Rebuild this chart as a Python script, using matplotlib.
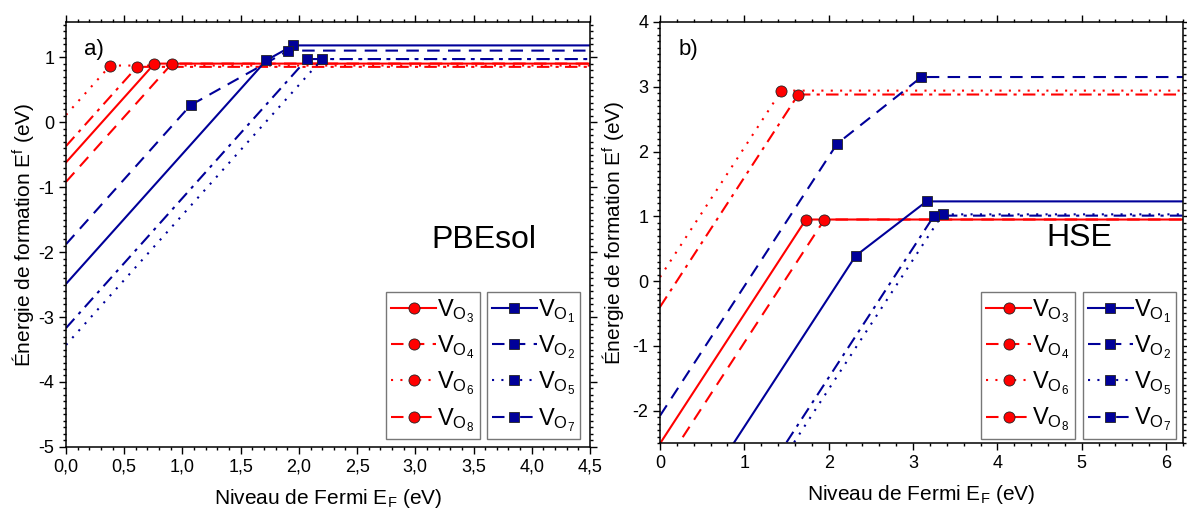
import matplotlib
matplotlib.use("Agg")
import matplotlib.pyplot as plt
from matplotlib.lines import Line2D
from matplotlib.ticker import MultipleLocator, FuncFormatter

plt.rcParams['font.family'] = ['Liberation Sans', 'DejaVu Sans']
plt.rcParams['mathtext.fontset'] = 'custom'
plt.rcParams['mathtext.rm'] = 'Liberation Sans'
plt.rcParams['mathtext.it'] = 'Liberation Sans:italic'

# ---- panel a) PBEsol : polyline vertices (x = E_F, y = E^f) ----
a_o3_x = [0, 0.76, 4.5]
a_o3_y = [-0.62, 0.90, 0.90]
a_o4_x = [0, 0.91, 4.5]
a_o4_y = [-0.92, 0.90, 0.90]
a_o6_x = [0, 0.38, 4.5]
a_o6_y = [0.11, 0.87, 0.87]
a_o8_x = [0, 0.61, 4.5]
a_o8_y = [-0.37, 0.85, 0.85]
a_o1_x = [0, 1.72, 1.95, 4.5]
a_o1_y = [-2.49, 0.95, 1.18, 1.18]
a_o2_x = [0, 1.07, 1.91, 4.5]
a_o2_y = [-1.88, 0.26, 1.10, 1.10]
a_o5_x = [0, 2.20, 4.5]
a_o5_y = [-3.43, 0.97, 0.97]
a_o7_x = [0, 2.07, 4.5]
a_o7_y = [-3.17, 0.97, 0.97]

# ---- panel b) HSE ----
b_o3_x = [0, 1.73, 6.2]
b_o3_y = [-2.51, 0.95, 0.95]
b_o4_x = [0, 1.95, 6.2]
b_o4_y = [-2.95, 0.95, 0.95]
b_o6_x = [0, 1.44, 6.2]
b_o6_y = [0.06, 2.94, 2.94]
b_o8_x = [0, 1.64, 6.2]
b_o8_y = [-0.40, 2.88, 2.88]
b_o1_x = [0, 2.32, 3.16, 6.2]
b_o1_y = [-4.25, 0.39, 1.23, 1.23]
b_o2_x = [0, 2.10, 3.10, 6.2]
b_o2_y = [-2.08, 2.12, 3.15, 3.15]
b_o5_x = [0, 3.35, 6.2]
b_o5_y = [-5.67, 1.03, 1.03]
b_o7_x = [0, 3.25, 6.2]
b_o7_y = [-5.49, 1.01, 1.01]

RED = '#ff0000'
BLUE = '#000099'
SOLID = '-'
DASH = (0, (6, 4))
DOT = (0, (1, 3.5))
DASHDOT = (0, (6, 3, 1.5, 3))

red_style = [('3', SOLID), ('4', DASH), ('6', DOT), ('8', DASHDOT)]
blue_style = [('1', SOLID), ('2', DASH), ('5', DOT), ('7', DASHDOT)]


def lab(n):
    return r'$\mathregular{V_{O_%s}}$' % n


def draw(ax, x, y, color, ls, marker):
    ms = 8 if marker == 'o' else 6.5
    ax.plot(x, y, color=color, ls=ls, lw=1.5, marker=marker, ms=ms,
            mfc=color, mec='#222222', mew=0.6, markevery=list(range(1, len(x) - 1)),
            clip_on=True)


def handles(color, marker, styles):
    ms = 8 if marker == 'o' else 6.5
    return [Line2D([0], [0], color=color, ls=ls, lw=1.5, marker=marker, ms=ms,
                   mfc=color, mec='#222222', mew=0.6, label=lab(n))
            for n, ls in styles]


def style_axes(ax):
    ax.tick_params(which='both', direction='out', top=True, right=True,
                   labelsize=13, width=1)
    ax.tick_params(which='major', length=5)
    ax.tick_params(which='minor', length=2.5)
    for s in ax.spines.values():
        s.set_linewidth(1.1)


def add_legends(ax, x_red, x_blue, y_top):
    kw = dict(loc='upper left', borderaxespad=0, frameon=True, fancybox=False,
              edgecolor='#777777', fontsize=17, handlelength=1.9,
              handletextpad=0.05, labelspacing=0.36, borderpad=0.22,
              numpoints=1, framealpha=1)
    l1 = ax.legend(handles=handles(RED, 'o', red_style),
                   bbox_to_anchor=(x_red, y_top), **kw)
    l1.get_frame().set_linewidth(1.0)
    ax.add_artist(l1)
    l2 = ax.legend(handles=handles(BLUE, 's', blue_style),
                   bbox_to_anchor=(x_blue, y_top), **kw)
    l2.get_frame().set_linewidth(1.0)


fig = plt.figure(figsize=(11.87, 5.12), dpi=100)
ax1 = fig.add_axes([0.0556, 0.127, 0.4414, 0.830])
ax2 = fig.add_axes([0.556, 0.1348, 0.4406, 0.8223])

# panel a
draw(ax1, a_o6_x, a_o6_y, RED, DOT, 'o')
draw(ax1, a_o8_x, a_o8_y, RED, DASHDOT, 'o')
draw(ax1, a_o3_x, a_o3_y, RED, SOLID, 'o')
draw(ax1, a_o4_x, a_o4_y, RED, DASH, 'o')
draw(ax1, a_o1_x, a_o1_y, BLUE, SOLID, 's')
draw(ax1, a_o2_x, a_o2_y, BLUE, DASH, 's')
draw(ax1, a_o5_x, a_o5_y, BLUE, DOT, 's')
draw(ax1, a_o7_x, a_o7_y, BLUE, DASHDOT, 's')
ax1.set_xlim(0, 4.5)
ax1.set_ylim(-5, 1.54)
ax1.xaxis.set_major_locator(MultipleLocator(0.5))
ax1.xaxis.set_minor_locator(MultipleLocator(0.1))
ax1.yaxis.set_major_locator(MultipleLocator(1))
ax1.yaxis.set_minor_locator(MultipleLocator(0.1))
ax1.xaxis.set_major_formatter(FuncFormatter(lambda v, p: ('%.1f' % v).replace('.', ',')))
ax1.yaxis.set_major_formatter(FuncFormatter(lambda v, p: '%d' % round(v)))
style_axes(ax1)
ax1.set_xlabel(r'Niveau de Fermi E$_\mathregular{F}$ (eV)', fontsize=15, labelpad=8)
ax1.set_ylabel(r'Énergie de formation E$^\mathregular{f}$ (eV)', fontsize=15, labelpad=0)
ax1.text(0.035, 0.935, 'a)', transform=ax1.transAxes, fontsize=16, va='center')
ax1.text(0.798, 0.487, 'PBEsol', transform=ax1.transAxes, fontsize=23,
         ha='center', va='center')
add_legends(ax1, 0.611, 0.803, 0.364)

# panel b
draw(ax2, b_o6_x, b_o6_y, RED, DOT, 'o')
draw(ax2, b_o8_x, b_o8_y, RED, DASHDOT, 'o')
draw(ax2, b_o3_x, b_o3_y, RED, SOLID, 'o')
draw(ax2, b_o4_x, b_o4_y, RED, DASH, 'o')
draw(ax2, b_o1_x, b_o1_y, BLUE, SOLID, 's')
draw(ax2, b_o2_x, b_o2_y, BLUE, DASH, 's')
draw(ax2, b_o5_x, b_o5_y, BLUE, DOT, 's')
draw(ax2, b_o7_x, b_o7_y, BLUE, DASHDOT, 's')
ax2.set_xlim(0, 6.2)
ax2.set_ylim(-2.5, 4)
ax2.xaxis.set_major_locator(MultipleLocator(1))
ax2.xaxis.set_minor_locator(MultipleLocator(0.2))
ax2.yaxis.set_major_locator(MultipleLocator(1))
ax2.yaxis.set_minor_locator(MultipleLocator(0.1))
ax2.xaxis.set_major_formatter(FuncFormatter(lambda v, p: '%d' % round(v)))
ax2.yaxis.set_major_formatter(FuncFormatter(lambda v, p: '%d' % round(v)))
style_axes(ax2)
ax2.set_xlabel(r'Niveau de Fermi E$_\mathregular{F}$ (eV)', fontsize=15, labelpad=8)
ax2.set_ylabel(r'Énergie de formation E$^\mathregular{f}$ (eV)', fontsize=15, labelpad=3)
ax2.text(0.035, 0.935, 'b)', transform=ax2.transAxes, fontsize=16, va='center')
ax2.text(0.801, 0.487, 'HSE', transform=ax2.transAxes, fontsize=23,
         ha='center', va='center')
add_legends(ax2, 0.614, 0.808, 0.358)

fig.savefig('out.png', dpi=100)
